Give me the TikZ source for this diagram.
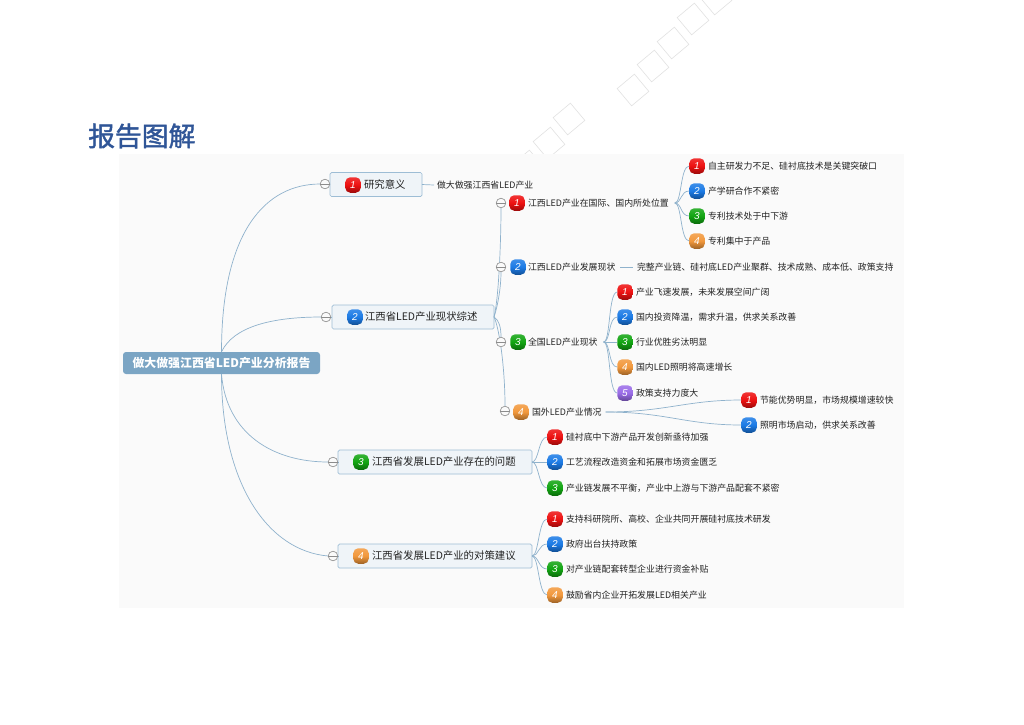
\documentclass[tikz,border=0pt]{standalone}
\usepackage{fontspec}
\setmainfont{Noto Sans CJK SC}
\newfontfamily\numf{Liberation Sans}
\newfontfamily\ttlf[FakeBold=1.6]{Noto Sans CJK SC}
\definecolor{panel}{HTML}{FAFAFA}
\definecolor{linkc}{HTML}{8FB2CC}
\definecolor{boxb}{HTML}{9DBDD5}
\definecolor{boxf}{HTML}{EFF4F8}
\definecolor{rootc}{HTML}{7BA5C4}
\definecolor{titlec}{HTML}{2F5597}
\definecolor{markc}{HTML}{E2E2E2}
\definecolor{txt}{HTML}{222222}
\definecolor{ired}{HTML}{EE1111}
\definecolor{iblue}{HTML}{1C7BE6}
\definecolor{igreen}{HTML}{12A512}
\definecolor{iorange}{HTML}{F2983C}
\definecolor{ipurple}{HTML}{9A6CE8}
\tikzset{
  x=1pt,y=-1pt,
  link/.style={draw=linkc,line width=.7pt},
  wm/.style={draw=markc,line width=.6pt,rotate=40,minimum size=22.5pt,inner sep=0,outer sep=0,shape=rectangle},
  topic/.style={draw=boxb,fill=boxf,rounded corners=1.5pt,line width=.7pt,inner sep=0,outer sep=0,minimum height=24pt,anchor=west},
  ttxt/.style={anchor=west,inner sep=0,outer sep=0,text=txt,font=\fontsize{10.4}{12}\selectfont},
  stxt/.style={anchor=west,inner sep=0,outer sep=0,text=txt,font=\fontsize{8.9}{11}\selectfont},
  col/.style={circle,draw=black!40,fill=panel,line width=.6pt,minimum size=9.5pt,inner sep=0,outer sep=0},
  ic/.style={rounded corners=5pt,minimum width=15.5pt,minimum height=15.5pt,inner sep=0,outer sep=0,text=white,shape=rectangle,
    font=\fontsize{10}{10}\numf\itshape},
  iglos/.style={ic,top color=#1!85!white,bottom color=#1!65!black,middle color=#1},
  i1/.style={iglos=ired},
  i2/.style={iglos=iblue},
  i3/.style={iglos=igreen},
  i4/.style={iglos=iorange},
  i5/.style={iglos=ipurple},
}
\begin{document}
\begin{tikzpicture}
\useasboundingbox (0,0) rectangle (1024,724);
\fill[white] (0,0) rectangle (1024,724);
% watermark
\foreach \i/\a/\b in {a/633/90,b/653/66,c/673/43,d/693/19,e/716/-1,f/569/119,g/549/143,h/528/166}
  \node[wm] (wm\i) at (\a,\b) {};
% panel
\fill[panel] (119,154) rectangle (904,608);
\node[anchor=west,inner sep=0,text=titlec,font=\fontsize{26.8}{30}\ttlf] (title) at (88,136) {报告图解};
% root
\node[fill=rootc,rounded corners=3pt,minimum width=197pt,minimum height=22pt,inner sep=0,text=white,font=\fontsize{11.9}{14}\selectfont\bfseries] (root) at (221.5,363) {做大做强江西省LED产业分析报告};
% collapse circles
\foreach \n/\a/\b in {c1/325/184,c2/326/317,c3/333/462,c4/333/556,d1/501/203,d2/501/267,d3/501/342,d4/505/411}{
  \node[col] (\n) at (\a,\b) {};
}
% topics
\node[topic,minimum width=92pt] (t1) at (330,184.5) {};
\node[topic,minimum width=162pt] (t2) at (332,317) {};
\node[topic,minimum width=194pt] (t3) at (338,462) {};
\node[topic,minimum width=194pt] (t4) at (338,556) {};
\node[i1] (ti1) at (353,185) {1}; \node[ttxt] (tx1) at (364,185) {研究意义};
\node[i2] (ti2) at (355,317) {2}; \node[ttxt] (tx2) at (365,317) {江西省LED产业现状综述};
\node[i3] (ti3) at (361,462) {3}; \node[ttxt] (tx3) at (372,462) {江西省发展LED产业存在的问题};
\node[i4] (ti4) at (361,556) {4}; \node[ttxt] (tx4) at (372,556) {江西省发展LED产业的对策建议};
% subtopics
\node[stxt] (n0) at (437,185) {做大做强江西省LED产业};
\node[i1] (si1) at (517,203) {1}; \node[stxt] (s1) at (528,203) {江西LED产业在国际、国内所处位置};
\node[i2] (si2) at (518,267) {2}; \node[stxt] (s2) at (528,267) {江西LED产业发展现状};
\node[stxt] (s2a) at (637,267) {完整产业链、硅衬底LED产业聚群、技术成熟、成本低、政策支持};
\node[i3] (si3) at (518,342) {3}; \node[stxt] (s3) at (528,342) {全国LED产业现状};
\node[i4] (si4) at (521,412) {4}; \node[stxt] (s4) at (532,412) {国外LED产业情况};
% leaves
\foreach \n/\st/\a/\b/\num/\t in {
 a1/i1/697/166/1/自主研发力不足、硅衬底技术是关键突破口,
 a2/i2/697/191/2/产学研合作不紧密,
 a3/i3/697/216/3/专利技术处于中下游,
 a4/i4/697/241/4/专利集中于产品,
 b1/i1/625/292/1/产业飞速发展，未来发展空间广阔,
 b2/i2/625/317/2/国内投资降温，需求升温，供求关系改善,
 b3/i3/625/342/3/行业优胜劣汰明显,
 b4/i4/625/367/4/国内LED照明将高速增长,
 b5/i5/625/393/5/政策支持力度大,
 e1/i1/749/400/1/节能优势明显，市场规模增速较快,
 e2/i2/749/425/2/照明市场启动，供求关系改善,
 f1/i1/555/437/1/硅衬底中下游产品开发创新亟待加强,
 f2/i2/555/462/2/工艺流程改造资金和拓展市场资金匮乏,
 f3/i3/555/488/3/产业链发展不平衡，产业中上游与下游产品配套不紧密,
 g1/i1/555/519/1/支持科研院所、高校、企业共同开展硅衬底技术研发,
 g2/i2/555/544/2/政府出台扶持政策,
 g3/i3/555/569/3/对产业链配套转型企业进行资金补贴,
 g4/i4/555/595/4/鼓励省内企业开拓发展LED相关产业}{
  \node[\st] (\n) at (\a,\b) {\num};
  \node[stxt] (\n x) at (\a+11,\b) {\t};
}
% connectors
\draw[link] (root.north) .. controls +(0,-120) and +(-55,0) .. (c1.west);
\draw[link] (root.north) .. controls +(12,-25) and +(-50,0) .. (c2.west);
\draw[link] (root.south) .. controls +(5,60) and +(-55,0) .. (c3.west);
\draw[link] (root.south) .. controls +(0,110) and +(-60,-5) .. (c4.west);
\foreach \c/\t in {c1/t1,c2/t2,c3/t3,c4/t4} \draw[link] (\c.east) -- (\t.west);
\draw[link] (t1.east) -- ([xshift=-3]n0.west);
\draw[link] (t2.east) .. controls +(5,-20) and +(0,30) .. (d1.south);
\draw[link] (t2.east) .. controls +(4,-12) and +(0,15) .. (d2.south);
\draw[link] (t2.east) .. controls +(5,3) and +(0,-10) .. (d3.north);
\draw[link] (t2.east) .. controls +(5,10) and +(0,-40) .. (d4.north);
\foreach \b in {a1,a2,a3,a4}
  \draw[link] ([xshift=6]s1.east) .. controls +(7,0) and +(-9,0) .. (\b.west);
\draw[link] ([xshift=5]s2.east) -- ([xshift=-4]s2a.west);
\foreach \b in {b1,b2,b3,b4,b5}
  \draw[link] ([xshift=6]s3.east) .. controls +(7,0) and +(-9,0) .. (\b.west);
\foreach \b in {e1,e2}
  \draw[link] ([xshift=4]s4.east) .. controls +(60,0) and +(-55,0) .. (\b.west);
\foreach \b in {f1,f2,f3}
  \draw[link] (t3.east) .. controls +(7,0) and +(-9,0) .. (\b.west);
\foreach \b in {g1,g2,g3,g4}
  \draw[link] (t4.east) .. controls +(7,0) and +(-9,0) .. (\b.west);
% collapse bars
\foreach \n in {c1,c2,c3,c4,d1,d2,d3,d4}{
  \node[col] at (\n) {};
  \draw[black!45,line width=.6pt] (\n.west) -- (\n.east);
}
\end{tikzpicture}
\end{document}
